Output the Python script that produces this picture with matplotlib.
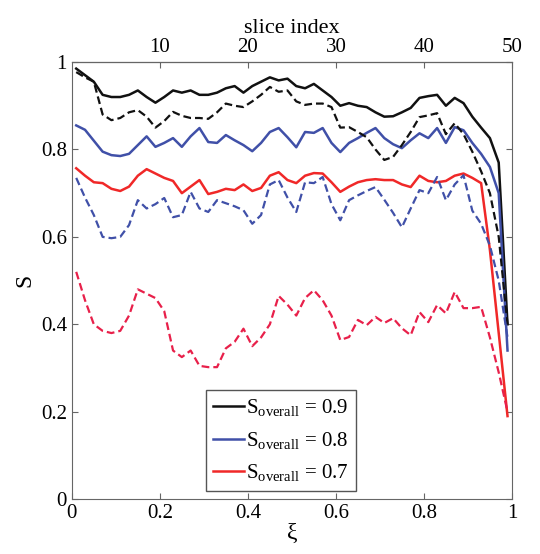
import numpy as np
import matplotlib
matplotlib.use('Agg')
import matplotlib.pyplot as plt
from matplotlib.ticker import FuncFormatter

plt.rcParams['font.family'] = ['Liberation Serif', 'DejaVu Serif']
plt.rcParams['mathtext.fontset'] = 'custom'
plt.rcParams['mathtext.rm'] = 'Liberation Serif'

# slice centres, xi = (i - 0.5)/50
xi = np.arange(1, 51) / 50 - 0.01

s09_solid = [0.985, 0.97, 0.955, 0.925, 0.92, 0.92, 0.925, 0.935, 0.92, 0.907,
             0.92, 0.935, 0.93, 0.935, 0.925, 0.925, 0.93, 0.94, 0.945, 0.93,
             0.945, 0.955, 0.965, 0.958, 0.962, 0.945, 0.94, 0.95, 0.935, 0.92,
             0.90, 0.906, 0.90, 0.897, 0.885, 0.875, 0.876, 0.885, 0.895, 0.918,
             0.922, 0.925, 0.90, 0.918, 0.906, 0.875, 0.85, 0.826, 0.77, 0.40]
s09_dash = [0.977, 0.965, 0.955, 0.88, 0.867, 0.872, 0.885, 0.89, 0.875, 0.85,
            0.865, 0.886, 0.877, 0.872, 0.872, 0.87, 0.885, 0.905, 0.90, 0.897,
            0.91, 0.925, 0.943, 0.932, 0.935, 0.91, 0.902, 0.905, 0.905, 0.897,
            0.85, 0.851, 0.84, 0.828, 0.80, 0.776, 0.783, 0.81, 0.84, 0.874,
            0.878, 0.883, 0.835, 0.86, 0.835, 0.795, 0.75, 0.70, 0.60, 0.40]
s08_solid = [0.855, 0.845, 0.82, 0.795, 0.787, 0.785, 0.79, 0.81, 0.83, 0.806,
             0.815, 0.826, 0.806, 0.83, 0.849, 0.817, 0.815, 0.833, 0.821, 0.81,
             0.796, 0.815, 0.84, 0.849, 0.828, 0.805, 0.84, 0.838, 0.849, 0.815,
             0.794, 0.815, 0.826, 0.838, 0.849, 0.826, 0.812, 0.803, 0.821, 0.837,
             0.826, 0.849, 0.815, 0.851, 0.844, 0.815, 0.79, 0.76, 0.70, 0.34]
s08_dash = [0.735, 0.69, 0.65, 0.60, 0.597, 0.60, 0.627, 0.684, 0.665, 0.675,
            0.689, 0.645, 0.65, 0.703, 0.665, 0.657, 0.684, 0.677, 0.67, 0.661,
            0.63, 0.65, 0.72, 0.73, 0.69, 0.657, 0.725, 0.723, 0.737, 0.675,
            0.638, 0.684, 0.695, 0.705, 0.714, 0.685, 0.655, 0.622, 0.665, 0.707,
            0.70, 0.737, 0.684, 0.72, 0.741, 0.66, 0.63, 0.58, 0.50, 0.37]
s07_solid = [0.757, 0.74, 0.725, 0.723, 0.71, 0.705, 0.715, 0.74, 0.755, 0.745,
             0.735, 0.728, 0.70, 0.715, 0.73, 0.698, 0.703, 0.71, 0.707, 0.72,
             0.705, 0.712, 0.74, 0.748, 0.73, 0.723, 0.74, 0.746, 0.745, 0.725,
             0.703, 0.715, 0.725, 0.73, 0.732, 0.73, 0.73, 0.72, 0.714, 0.74,
             0.728, 0.725, 0.728, 0.74, 0.745, 0.735, 0.723, 0.57, 0.38, 0.19]
s07_dash = [0.52, 0.455, 0.40, 0.385, 0.38, 0.385, 0.42, 0.48, 0.47, 0.46,
            0.43, 0.34, 0.325, 0.34, 0.305, 0.302, 0.302, 0.345, 0.36, 0.39,
            0.35, 0.37, 0.40, 0.465, 0.445, 0.42, 0.46, 0.478, 0.455, 0.42,
            0.364, 0.371, 0.41, 0.398, 0.417, 0.403, 0.414, 0.391, 0.375, 0.428,
            0.405, 0.444, 0.425, 0.474, 0.437, 0.437, 0.44, 0.37, 0.29, 0.20]

fig = plt.figure(figsize=(5.4, 5.54), dpi=100)
ax = fig.add_axes([0.133, 0.099, 0.815, 0.789])

black = '#111111'
blue = '#4050a8'
red = '#f02828'
red_d = '#e8204a'
dash = (0, (3.5, 1.8))

ax.plot(xi, s09_solid, color=black, lw=1.8, label=r'$\mathregular{S_{overall}}$ = 0.9')
ax.plot(xi, s08_solid, color=blue, lw=1.8, label=r'$\mathregular{S_{overall}}$ = 0.8')
ax.plot(xi, s07_solid, color=red, lw=1.8, label=r'$\mathregular{S_{overall}}$ = 0.7')
ax.plot(xi, s09_dash, color=black, lw=1.6, ls=dash)
ax.plot(xi, s08_dash, color=blue, lw=1.6, ls=dash)
ax.plot(xi, s07_dash, color=red_d, lw=1.6, ls=dash)

ax.set_xlim(0, 1)
ax.set_ylim(0, 1)
ax.set_xticks([0, 0.2, 0.4, 0.6, 0.8, 1])
ax.set_yticks([0, 0.2, 0.4, 0.6, 0.8, 1])
fmt = FuncFormatter(lambda v, p: '%g' % v)
ax.xaxis.set_major_formatter(fmt)
ax.yaxis.set_major_formatter(fmt)
ax.tick_params(direction='in', labelsize=15, length=4, color='#666666', right=True)
for sp in ax.spines.values():
    sp.set_color('#666666')
ax.set_xlabel('ξ', fontsize=17, labelpad=0)
ax.set_ylabel('S', fontsize=17, labelpad=4)

top = ax.secondary_xaxis('top', functions=(lambda x: x * 50, lambda s: s / 50))
top.set_xticks([10, 20, 30, 40, 50])
top.tick_params(direction='in', labelsize=15, length=4, color='#666666')
top.set_xlabel('slice index', fontsize=16, labelpad=4)

leg = ax.legend(loc='lower center', bbox_to_anchor=(0.475, 0.01), fontsize=15,
                handlelength=1.5, handletextpad=0.1, borderpad=0.35,
                labelspacing=0.55, borderaxespad=0.2, fancybox=False, framealpha=1)
leg.get_frame().set_edgecolor('#555555')
leg.get_frame().set_linewidth(1.0)

fig.savefig('out.png', dpi=100)
